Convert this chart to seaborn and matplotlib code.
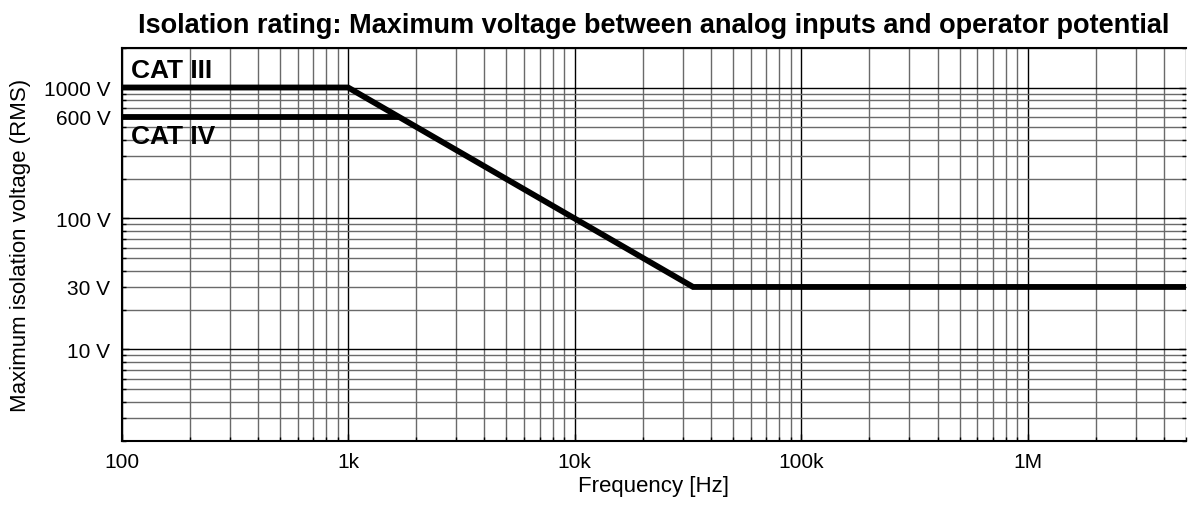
import matplotlib
matplotlib.use("Agg")
import matplotlib.pyplot as plt
import matplotlib.ticker as mticker
import numpy as np
import pandas as pd
import seaborn as sns

# ---- data ----
cat3_freq = [100, 1000, 33333, 5e6]
cat3_volt = [1000, 1000, 30, 30]
cat4_freq = [100, 1667]
cat4_volt = [600, 600]
x_tick_values = [100, 1e3, 1e4, 1e5, 1e6]
x_tick_labels = ["100", "1k", "10k", "100k", "1M"]
y_major_labels = {10: "10 V", 100: "100 V", 1000: "1000 V"}
y_minor_labels = {30: "30 V", 600: "600 V"}

sns.set_theme(style="white")
plt.rcParams['font.family'] = ['Liberation Sans', 'DejaVu Sans']

fig = plt.figure(figsize=(11.92, 5.06), dpi=100)
ax = fig.add_axes([0.102, 0.1265, 0.893, 0.7765])

df3 = pd.DataFrame({"f": cat3_freq, "v": cat3_volt})
df4 = pd.DataFrame({"f": cat4_freq, "v": cat4_volt})
sns.lineplot(data=df3, x="f", y="v", ax=ax, color="black", lw=4.2,
             sort=False, estimator=None, zorder=5, solid_joinstyle="miter")
sns.lineplot(data=df4, x="f", y="v", ax=ax, color="black", lw=4.2,
             sort=False, estimator=None, zorder=5)

ax.set_xscale("log")
ax.set_yscale("log")
ax.set_xlim(100, 5e6)
ax.set_ylim(2, 2000)

ax.xaxis.set_major_locator(mticker.FixedLocator(x_tick_values))
ax.xaxis.set_major_formatter(mticker.FixedFormatter(x_tick_labels))
ax.xaxis.set_minor_locator(mticker.LogLocator(base=10, subs=np.arange(2, 10), numticks=50))
ax.xaxis.set_minor_formatter(mticker.NullFormatter())

ax.yaxis.set_major_locator(mticker.LogLocator(base=10, numticks=20))
ax.yaxis.set_major_formatter(mticker.FuncFormatter(
    lambda v, p: y_major_labels.get(int(round(v)), "")))
ax.yaxis.set_minor_locator(mticker.LogLocator(base=10, subs=np.arange(2, 10), numticks=50))
ax.yaxis.set_minor_formatter(mticker.FuncFormatter(
    lambda v, p: y_minor_labels.get(int(round(v)), "")))

ax.grid(which="major", color="black", lw=1.0, zorder=1)
ax.grid(which="minor", color="#6a6a6a", lw=1.0, zorder=1)
ax.set_axisbelow(True)

ax.tick_params(which="both", direction="in", left=True, right=True, bottom=True,
               top=False, color="black", labelsize=15, labelcolor="black")
ax.tick_params(which="major", length=5, width=1, pad=8)
ax.tick_params(which="minor", length=3, width=1, pad=8)

for s in ["left", "bottom", "top"]:
    ax.spines[s].set_visible(True)
    ax.spines[s].set_color("black")
    ax.spines[s].set_linewidth(1.5)
ax.spines["right"].set_visible(False)

ax.set_xlabel("Frequency [Hz]", fontsize=16, color="black", labelpad=3)
ax.set_ylabel("Maximum isolation voltage (RMS)", fontsize=16, color="black", labelpad=9)
ax.set_title("Isolation rating: Maximum voltage between analog inputs and operator potential",
             fontsize=19.5, fontweight="bold", color="black", pad=11.5)

ax.text(110, 1110, "CAT III", fontsize=19, fontweight="bold", ha="left", va="bottom",
        color="black", zorder=6)
ax.text(110, 530, "CAT IV", fontsize=19, fontweight="bold", ha="left", va="top",
        color="black", zorder=6)

ax.set_facecolor("white")
fig.patch.set_facecolor("white")
fig.savefig("out.png", dpi=100)
